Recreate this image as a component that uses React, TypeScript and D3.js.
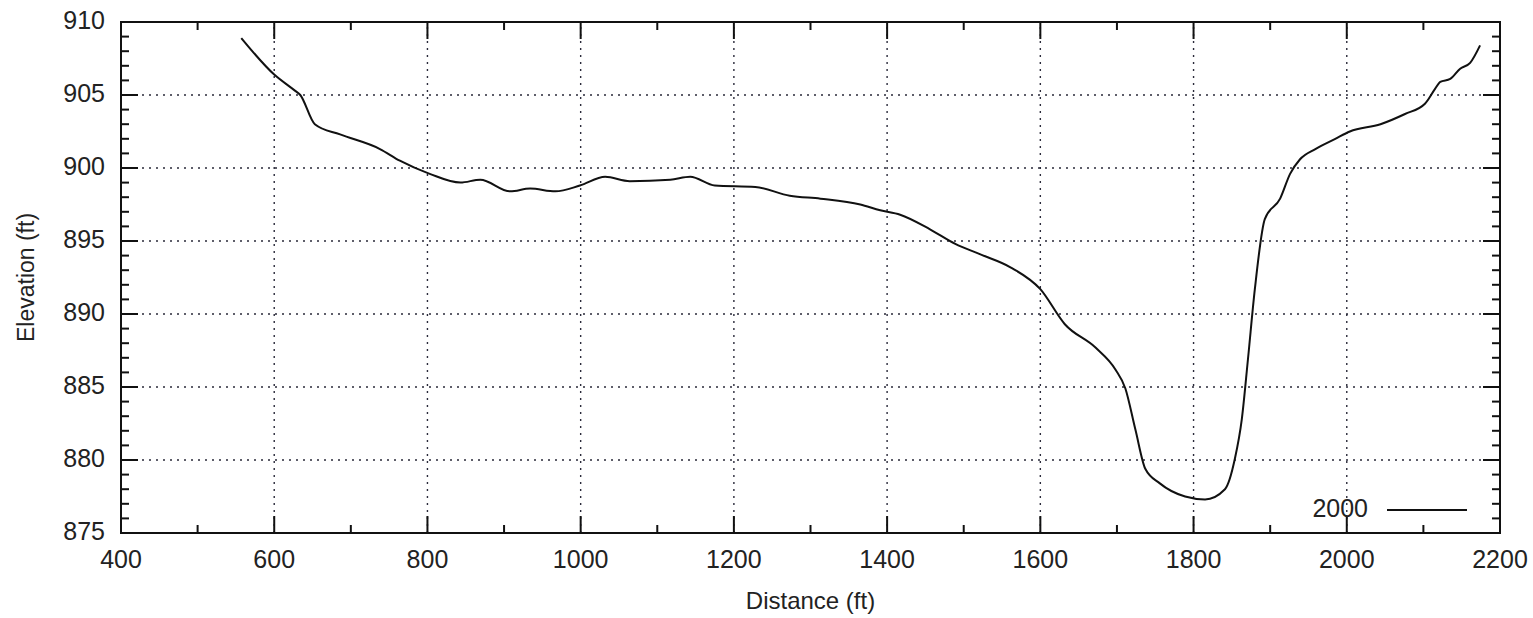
import React, { useRef, useEffect } from "react";
import * as d3 from "d3";

// profile: distance (ft) and elevation (ft)
const distance = [
  557, 600, 627, 634, 653, 686, 738, 764, 803, 843, 869, 908, 934, 967, 999,
  1032, 1064, 1117, 1143, 1175, 1228, 1273, 1313, 1365, 1391, 1417, 1456, 1489,
  1521, 1561, 1600, 1632, 1672, 1698, 1711, 1724, 1737, 1756, 1789, 1815, 1841,
  1854, 1863, 1871, 1880, 1893, 1913, 1926, 1939, 1959, 1985, 2004, 2044, 2076,
  2102, 2115, 2122, 2135, 2148, 2161, 2174
];
const elevation = [
  908.9, 906.4, 905.3, 905.0, 903.0, 902.3, 901.3, 900.5, 899.6, 899.0, 899.2,
  898.4, 898.6, 898.4, 898.8, 899.4, 899.1, 899.2, 899.4, 898.8, 898.7, 898.1,
  897.9, 897.5, 897.1, 896.8, 895.8, 894.8, 894.1, 893.2, 891.7, 889.3, 887.7,
  886.2, 884.9, 882.1, 879.4, 878.4, 877.5, 877.3, 878.0, 880.1, 882.8, 886.9,
  891.7, 896.5, 897.9, 899.6, 900.6, 901.3, 902.0, 902.5, 903.0, 903.7, 904.4,
  905.4, 905.9, 906.1, 906.8, 907.2, 908.4
];
const xTicks = [400, 600, 800, 1000, 1200, 1400, 1600, 1800, 2000, 2200];
const yTicks = [875, 880, 885, 890, 895, 900, 905, 910];
const seriesName = "2000";

const App = () => {
  const node: any = useRef();

  useEffect(() => {
    document.body.style.margin = "0";
    const width = 1533,
      height = 618;
    const margin = { top: 22, right: 33, bottom: 85, left: 121 };
    const svg = d3.select(node.current).attr("width", width).attr("height", height);
    svg.selectAll("*").remove();

    const x = d3.scaleLinear().domain([400, 2200]).range([margin.left, width - margin.right]);
    const y = d3.scaleLinear().domain([875, 910]).range([height - margin.bottom, margin.top]);
    const [x0, x1] = x.range();
    const [y0, y1] = y.range();
    const font = "'Liberation Sans', Arial, sans-serif";

    // grid
    const grid = svg.append("g").attr("stroke", "#2a2a3a").attr("stroke-width", 1.4).attr("stroke-dasharray", "2 5");
    grid
      .selectAll("line.gx")
      .data(xTicks.slice(1, -1))
      .enter()
      .append("line")
      .attr("x1", d => x(d))
      .attr("x2", d => x(d))
      .attr("y1", y0)
      .attr("y2", y1);
    grid
      .selectAll("line.gy")
      .data(yTicks.slice(1, -1))
      .enter()
      .append("line")
      .attr("x1", x0)
      .attr("x2", x1)
      .attr("y1", d => y(d))
      .attr("y2", d => y(d));

    // ticks, mirrored on all sides, pointing inwards
    const ticks = svg.append("g").attr("stroke", "#111").attr("stroke-width", 2);
    const xMinor = d3.range(400, 2201, 100);
    const yMinor = d3.range(875, 910.1, 1);
    xMinor.forEach(v => {
      const len = v % 200 === 0 ? 17 : 8;
      ticks.append("line").attr("x1", x(v)).attr("x2", x(v)).attr("y1", y0).attr("y2", y0 - len);
      ticks.append("line").attr("x1", x(v)).attr("x2", x(v)).attr("y1", y1).attr("y2", y1 + len);
    });
    yMinor.forEach(v => {
      const len = v % 5 === 0 ? 17 : 8;
      ticks.append("line").attr("x1", x0).attr("x2", x0 + len).attr("y1", y(v)).attr("y2", y(v));
      ticks.append("line").attr("x1", x1).attr("x2", x1 - len).attr("y1", y(v)).attr("y2", y(v));
    });

    // frame
    svg
      .append("rect")
      .attr("x", x0)
      .attr("y", y1)
      .attr("width", x1 - x0)
      .attr("height", y0 - y1)
      .attr("fill", "none")
      .attr("stroke", "#111")
      .attr("stroke-width", 2);

    // tick labels
    svg
      .append("g")
      .selectAll("text")
      .data(xTicks)
      .enter()
      .append("text")
      .attr("x", d => x(d))
      .attr("y", y0 + 28)
      .attr("text-anchor", "middle")
      .attr("dominant-baseline", "middle")
      .attr("font-family", font)
      .attr("font-size", 25)
      .attr("fill", "#222")
      .text(d => d);
    svg
      .append("g")
      .selectAll("text")
      .data(yTicks)
      .enter()
      .append("text")
      .attr("x", x0 - 16)
      .attr("y", d => y(d))
      .attr("text-anchor", "end")
      .attr("dominant-baseline", "middle")
      .attr("font-family", font)
      .attr("font-size", 25)
      .attr("fill", "#222")
      .text(d => d);

    // axis titles
    svg
      .append("text")
      .attr("x", (x0 + x1) / 2)
      .attr("y", 603)
      .attr("text-anchor", "middle")
      .attr("dominant-baseline", "middle")
      .attr("font-family", font)
      .attr("font-size", 24)
      .attr("fill", "#222")
      .text("Distance (ft)");
    svg
      .append("text")
      .attr("transform", `translate(28,${(y0 + y1) / 2}) rotate(-90)`)
      .attr("text-anchor", "middle")
      .attr("dominant-baseline", "middle")
      .attr("font-family", font)
      .attr("font-size", 23)
      .attr("fill", "#222")
      .text("Elevation (ft)");

    // profile line
    const line: any = d3
      .line()
      .x((d: any) => x(d[0]))
      .y((d: any) => y(d[1]))
      .curve(d3.curveMonotoneX);
    svg
      .append("path")
      .datum(distance.map((d, i) => [d, elevation[i]]))
      .attr("d", line)
      .attr("fill", "none")
      .attr("stroke", "#111")
      .attr("stroke-width", 2);

    // legend
    const ly = y0 - 23;
    svg
      .append("text")
      .attr("x", x1 - 132)
      .attr("y", ly)
      .attr("text-anchor", "end")
      .attr("dominant-baseline", "middle")
      .attr("font-family", font)
      .attr("font-size", 25)
      .attr("fill", "#222")
      .text(seriesName);
    svg
      .append("line")
      .attr("x1", x1 - 113)
      .attr("x2", x1 - 33)
      .attr("y1", ly)
      .attr("y2", ly)
      .attr("stroke", "#111")
      .attr("stroke-width", 2);
  }, []);

  return (
    <div style={{ background: "#fff" }}>
      <svg ref={node}></svg>
    </div>
  );
};

export default App;
